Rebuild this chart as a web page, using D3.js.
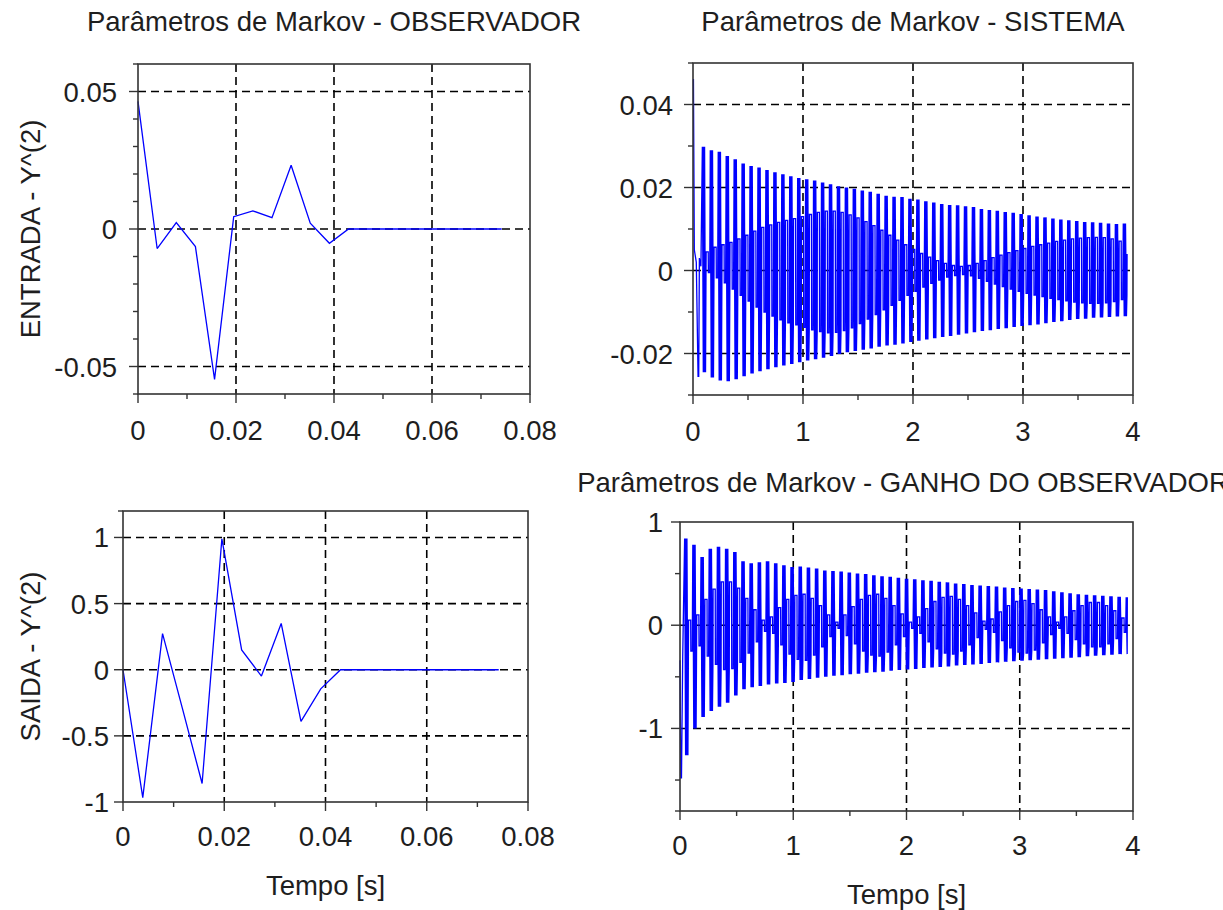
<!DOCTYPE html>
<html><head><meta charset="utf-8">
<script src="https://cdn.jsdelivr.net/npm/d3@7"></script>
<style>
html,body{margin:0;padding:0;background:#fff;}
svg{display:block;font-family:"Liberation Sans",Arial,sans-serif;}
</style></head><body>
<svg id="fig" width="1223" height="910"></svg>
<script>
// ---- Observer Markov parameters (sampled, Ts = 1/256 s) ----
const obsPeriod = 1 / 256;
const obsEntrada = [0.0464, -0.0071, 0.0023, -0.0064, -0.0547, 0.0045, 0.0066, 0.0041, 0.0232, 0.0021,
                    -0.0052, 0, 0, 0, 0, 0, 0, 0, 0, 0];
const obsSaida = [0, -0.967, 0.273, -0.29, -0.86, 0.99, 0.15, -0.048, 0.35, -0.39,
                  -0.145, 0, 0, 0, 0, 0, 0, 0, 0, 0];

// ---- System Markov parameters: oscillation cycles (period ~0.0722 s) ----
const cyclePeriod = 0.0722;
const sysFirstCycle = 0.085;
const sysEnd = 3.95;
const sysStart = [[0.000, 0.046], [0.004, 0.046], [0.012, 0.005], [0.030, 0.002], [0.046, -0.0255],
                  [0.052, -0.0255], [0.058, 0.003], [0.072, 0.001]];
const sysHi = [0.0298, 0.0290, 0.0286, 0.0276, 0.0268, 0.0258, 0.0252, 0.0248, 0.0242, 0.0237,
               0.0232, 0.0227, 0.0223, 0.0220, 0.0217, 0.0212, 0.0208, 0.0203, 0.0200, 0.0197,
               0.0193, 0.0190, 0.0185, 0.0180, 0.0178, 0.0177, 0.0173, 0.0171, 0.0167, 0.0164,
               0.0160, 0.0158, 0.0157, 0.0155, 0.0153, 0.0148, 0.0146, 0.0144, 0.0141, 0.0139,
               0.0136, 0.0133, 0.0130, 0.0128, 0.0125, 0.0123, 0.0121, 0.0119, 0.0117, 0.0116,
               0.0115, 0.0113, 0.0112, 0.0113];
const sysLo = [-0.0245, -0.0258, -0.0265, -0.0267, -0.0262, -0.0255, -0.0248, -0.0243, -0.0238, -0.0233,
               -0.0229, -0.0225, -0.0221, -0.0217, -0.0214, -0.0210, -0.0206, -0.0201, -0.0197, -0.0194,
               -0.0191, -0.0188, -0.0184, -0.0181, -0.0179, -0.0176, -0.0172, -0.0169, -0.0166, -0.0163,
               -0.0160, -0.0158, -0.0155, -0.0152, -0.0149, -0.0146, -0.0144, -0.0141, -0.0139, -0.0136,
               -0.0134, -0.0132, -0.0130, -0.0127, -0.0124, -0.0122, -0.0119, -0.0117, -0.0116, -0.0114,
               -0.0113, -0.0112, -0.0111, -0.0110];
const sysInHi = [0.0045, 0.0056, 0.0062, 0.0068, 0.0076, 0.0085, 0.0095, 0.0104, 0.0110, 0.0116,
                 0.0121, 0.0125, 0.0130, 0.0135, 0.0140, 0.0143, 0.0143, 0.0140, 0.0134, 0.0127,
                 0.0118, 0.0108, 0.0097, 0.0085, 0.0073, 0.0062, 0.0051, 0.0041, 0.0032, 0.0024,
                 0.0017, 0.0012, 0.0010, 0.0012, 0.0017, 0.0024, 0.0031, 0.0037, 0.0043, 0.0048,
                 0.0053, 0.0058, 0.0062, 0.0066, 0.0070, 0.0073, 0.0076, 0.0078, 0.0079, 0.0080,
                 0.0079, 0.0076, 0.0071, 0.0040];
const sysInLo = [-0.0005, -0.0018, -0.0030, -0.0045, -0.0060, -0.0074, -0.0088, -0.0100, -0.0110, -0.0119,
                 -0.0126, -0.0131, -0.0137, -0.0143, -0.0147, -0.0150, -0.0149, -0.0145, -0.0138, -0.0128,
                 -0.0117, -0.0106, -0.0095, -0.0084, -0.0072, -0.0060, -0.0050, -0.0040, -0.0031, -0.0023,
                 -0.0016, -0.0012, -0.0010, -0.0013, -0.0019, -0.0026, -0.0033, -0.0039, -0.0045, -0.0050,
                 -0.0055, -0.0059, -0.0063, -0.0067, -0.0070, -0.0073, -0.0076, -0.0078, -0.0079, -0.0079,
                 -0.0078, -0.0075, -0.0070, -0.0060];

// ---- Observer gain Markov parameters ----
const gainFirstCycle = 0.041;
const gainEnd = 3.95;
const gainStart = [[0.000, -0.34], [0.007, -1.48], [0.013, -1.48], [0.024, -0.30]];
const gainHi = [0.84, 0.78, 0.66, 0.74, 0.76, 0.74, 0.71, 0.62, 0.60, 0.61,
                0.62, 0.60, 0.58, 0.565, 0.57, 0.56, 0.55, 0.53, 0.525, 0.52,
                0.51, 0.50, 0.495, 0.485, 0.475, 0.47, 0.46, 0.45, 0.445, 0.435,
                0.43, 0.42, 0.415, 0.405, 0.40, 0.39, 0.385, 0.38, 0.375, 0.365,
                0.36, 0.355, 0.35, 0.345, 0.34, 0.33, 0.32, 0.31, 0.30, 0.295,
                0.29, 0.285, 0.28, 0.275, 0.27];
const gainLo = [-1.26, -1.00, -0.89, -0.83, -0.79, -0.75, -0.68, -0.62, -0.60, -0.59,
                -0.575, -0.565, -0.56, -0.55, -0.53, -0.52, -0.51, -0.50, -0.49, -0.485,
                -0.475, -0.47, -0.46, -0.455, -0.45, -0.44, -0.435, -0.43, -0.425, -0.415,
                -0.41, -0.405, -0.40, -0.39, -0.385, -0.38, -0.375, -0.365, -0.36, -0.355,
                -0.35, -0.345, -0.34, -0.335, -0.33, -0.325, -0.32, -0.315, -0.31, -0.30,
                -0.295, -0.29, -0.285, -0.28, -0.28];
const gainInHi = [0.05, 0.10, 0.25, 0.35, 0.42, 0.42, 0.36, 0.26, 0.15, 0.05,
                  0.08, 0.17, 0.25, 0.29, 0.30, 0.26, 0.19, 0.10, 0.03, 0.10,
                  0.18, 0.25, 0.29, 0.30, 0.26, 0.19, 0.11, 0.03, 0.08, 0.16,
                  0.23, 0.27, 0.28, 0.25, 0.19, 0.12, 0.04, 0.06, 0.13, 0.19,
                  0.23, 0.24, 0.21, 0.15, 0.08, 0.03, 0.08, 0.14, 0.19, 0.22,
                  0.22, 0.19, 0.14, 0.07, 0.03];
const gainInLo = [-0.25, -0.20, -0.30, -0.38, -0.43, -0.42, -0.36, -0.27, -0.16, -0.06,
                  -0.08, -0.19, -0.28, -0.33, -0.34, -0.29, -0.21, -0.11, -0.03, -0.10,
                  -0.18, -0.25, -0.29, -0.30, -0.26, -0.19, -0.11, -0.03, -0.08, -0.16,
                  -0.23, -0.27, -0.28, -0.25, -0.19, -0.12, -0.04, -0.07, -0.15, -0.22,
                  -0.26, -0.27, -0.24, -0.17, -0.09, -0.03, -0.08, -0.14, -0.18, -0.21,
                  -0.21, -0.18, -0.13, -0.07, -0.03];

// ---- Tick values ----
const tickTimeObs = [0, 0.02, 0.04, 0.06, 0.08];
const minorTimeObs = [0.01, 0.03, 0.05, 0.07];
const tickTimeSys = [0, 1, 2, 3, 4];
const minorTimeSys = [0.5, 1.5, 2.5, 3.5];
const tickEntrada = [-0.05, 0, 0.05];
const minorEntrada = [-0.06, -0.04, -0.03, -0.02, -0.01, 0.01, 0.02, 0.03, 0.04, 0.06];
const tickSistema = [-0.02, 0, 0.02, 0.04];
const minorSistema = [-0.03, -0.01, 0.01, 0.03, 0.05];
const tickSaida = [-1, -0.5, 0, 0.5, 1];
const minorSaida = [1.2];
const tickGanho = [-1, 0, 1];
const minorGanho = [-1.8, -1.5, -0.5, 0.5];

// plain hyphen for negatives
const num = f => d => d === 0 ? "0" : f(d).replace("\u2212", "-");
const fmt2 = num(d3.format(".2f"));
const fmtSaida = num(d => Number.isInteger(d) ? String(d) : d3.format(".1f")(d));
const fmtInt = num(d => String(d));

const svg = d3.select("#fig");
const INK = "#1e1e1e";
const BLUE = "#0000ff";
const FS = 27.5;

// Expand each oscillation cycle into the drawn polyline:
// a full-height stroke (hi/lo zigzag) followed by a narrow loop in the inner band.
function cycleTrace(start, first, hi, lo, inHi, inLo, tEnd) {
  const pts = start.slice();
  const shape = (k) => [
    [0.00, hi[k]], [0.12, lo[k]], [0.14, hi[k]], [0.26, lo[k]], [0.28, hi[k]], [0.40, lo[k]],
    [0.46, inLo[k]], [0.48, inHi[k]], [0.74, inHi[k]], [0.76, inLo[k]], [0.93, inLo[k]]
  ];
  hi.forEach((_, k) => {
    const tk = first + k * cyclePeriod;
    shape(k).forEach(([ph, v]) => {
      const t = tk + ph * cyclePeriod;
      if (t <= tEnd) pts.push([t, v]);
    });
  });
  return pts;
}

function panel(cfg) {
  const x = d3.scaleLinear().domain(cfg.xDomain).range([cfg.left, cfg.right]);
  const y = d3.scaleLinear().domain(cfg.yDomain).range([cfg.bottom, cfg.top]);
  const g = svg.append("g");

  // dashed grid
  const grid = g.append("g").attr("stroke", "#000").attr("stroke-width", 1.6)
    .attr("stroke-dasharray", "8,5");
  cfg.xTicks.filter(d => d > cfg.xDomain[0] && d < cfg.xDomain[1]).forEach(d => {
    grid.append("line").attr("x1", x(d)).attr("x2", x(d)).attr("y1", cfg.top).attr("y2", cfg.bottom);
  });
  cfg.yTicks.filter(d => d > cfg.yDomain[0] && d < cfg.yDomain[1]).forEach(d => {
    grid.append("line").attr("y1", y(d)).attr("y2", y(d)).attr("x1", cfg.left).attr("x2", cfg.right);
  });

  // data
  const line = d3.line().x(d => x(d[0])).y(d => y(d[1]));
  g.append("path").datum(cfg.data).attr("d", line)
    .attr("fill", "none").attr("stroke", BLUE).attr("stroke-width", 1.3)
    .attr("stroke-linejoin", "miter").attr("stroke-miterlimit", 2);

  // frame
  g.append("rect").attr("x", cfg.left).attr("y", cfg.top)
    .attr("width", cfg.right - cfg.left).attr("height", cfg.bottom - cfg.top)
    .attr("fill", "none").attr("stroke", "#333").attr("stroke-width", 1.6);

  // ticks
  const tk = g.append("g").attr("stroke", "#333").attr("stroke-width", 1.4);
  cfg.xTicks.forEach(d => tk.append("line").attr("x1", x(d)).attr("x2", x(d))
    .attr("y1", cfg.bottom).attr("y2", cfg.bottom + 9));
  cfg.xMinor.forEach(d => tk.append("line").attr("x1", x(d)).attr("x2", x(d))
    .attr("y1", cfg.bottom).attr("y2", cfg.bottom + 5));
  cfg.yTicks.forEach(d => tk.append("line").attr("y1", y(d)).attr("y2", y(d))
    .attr("x1", cfg.left).attr("x2", cfg.left - 9));
  cfg.yMinor.forEach(d => tk.append("line").attr("y1", y(d)).attr("y2", y(d))
    .attr("x1", cfg.left).attr("x2", cfg.left - 5));

  // tick labels
  g.append("g").selectAll("text").data(cfg.xTicks).join("text")
    .attr("x", d => x(d)).attr("y", cfg.bottom + cfg.xLabelGap)
    .attr("text-anchor", "middle").attr("font-size", FS).attr("fill", INK)
    .text(cfg.xFormat);
  g.append("g").selectAll("text").data(cfg.yTicks).join("text")
    .attr("x", cfg.left - cfg.yLabelGap).attr("y", d => y(d) + 10)
    .attr("text-anchor", "end").attr("font-size", FS).attr("fill", INK)
    .text(cfg.yFormat);

  if (cfg.title) {
    g.append("text").attr("x", cfg.titleX ?? (cfg.left + cfg.right) / 2).attr("y", cfg.titleY)
      .attr("text-anchor", "middle").attr("font-size", FS).attr("fill", INK).text(cfg.title);
  }
  if (cfg.xLabel) {
    g.append("text").attr("x", (cfg.left + cfg.right) / 2).attr("y", cfg.bottom + 93)
      .attr("text-anchor", "middle").attr("font-size", FS).attr("fill", INK).text(cfg.xLabel);
  }
  if (cfg.yLabel) {
    g.append("text").attr("transform", `translate(40,${(cfg.top + cfg.bottom) / 2}) rotate(-90)`)
      .attr("text-anchor", "middle").attr("font-size", FS).attr("fill", INK).text(cfg.yLabel);
  }
}

panel({
  left: 138, right: 530, top: 64, bottom: 394,
  xDomain: [0, 0.08], yDomain: [-0.06, 0.06],
  xTicks: tickTimeObs, xMinor: minorTimeObs, yTicks: tickEntrada, yMinor: minorEntrada,
  xFormat: fmt2, yFormat: fmt2, xLabelGap: 46, yLabelGap: 21,
  data: obsEntrada.map((v, i) => [i * obsPeriod, v]),
  title: "Parâmetros de Markov - OBSERVADOR", titleY: 31,
  yLabel: "ENTRADA - Y^(2)"
});

panel({
  left: 693, right: 1133, top: 63, bottom: 395,
  xDomain: [0, 4], yDomain: [-0.03, 0.05],
  xTicks: tickTimeSys, xMinor: minorTimeSys, yTicks: tickSistema, yMinor: minorSistema,
  xFormat: fmtInt, yFormat: fmt2, xLabelGap: 46, yLabelGap: 20,
  data: cycleTrace(sysStart, sysFirstCycle, sysHi, sysLo, sysInHi, sysInLo, sysEnd),
  title: "Parâmetros de Markov - SISTEMA", titleY: 31
});

panel({
  left: 123, right: 528, top: 511, bottom: 802,
  xDomain: [0, 0.08], yDomain: [-1, 1.2],
  xTicks: tickTimeObs, xMinor: minorTimeObs, yTicks: tickSaida, yMinor: minorSaida,
  xFormat: fmt2, yFormat: fmtSaida, xLabelGap: 44, yLabelGap: 14,
  data: obsSaida.map((v, i) => [i * obsPeriod, v]),
  xLabel: "Tempo [s]", yLabel: "SAIDA - Y^(2)"
});

panel({
  left: 680, right: 1133, top: 522, bottom: 811,
  xDomain: [0, 4], yDomain: [-1.8, 1],
  xTicks: tickTimeSys, xMinor: minorTimeSys, yTicks: tickGanho, yMinor: minorGanho,
  xFormat: fmtInt, yFormat: fmtInt, xLabelGap: 44, yLabelGap: 17,
  data: cycleTrace(gainStart, gainFirstCycle, gainHi, gainLo, gainInHi, gainInLo, gainEnd),
  title: "Parâmetros de Markov - GANHO DO OBSERVADOR", titleY: 492, titleX: 903,
  xLabel: "Tempo [s]"
});
</script></body></html>
